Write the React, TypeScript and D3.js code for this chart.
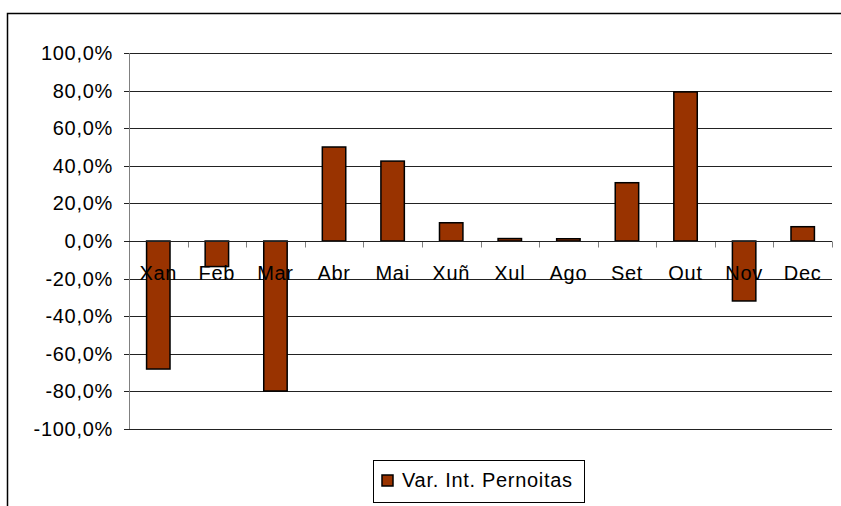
import React, { useEffect, useRef } from 'react';
import * as d3 from 'd3';

const months = ['Xan', 'Feb', 'Mar', 'Abr', 'Mai', 'Xuñ', 'Xul', 'Ago', 'Set', 'Out', 'Nov', 'Dec'];
const pernoitas = [-68.1, -13.6, -79.8, 50.0, 42.5, 9.7, 1.3, 1.2, 31.0, 79.3, -31.9, 7.6];
const yTicks = [-100, -80, -60, -40, -20, 0, 20, 40, 60, 80, 100];
const seriesName = 'Var. Int. Pernoitas';

const W = 841;
const H = 506;

export default function App() {
  const ref = useRef<SVGSVGElement>(null);

  useEffect(() => {
    const svg = d3.select(ref.current);
    svg.selectAll('*').remove();

    const left = 129;
    const right = 832;
    const top = 53;
    const bottom = 429;
    const font = 'Liberation Sans, Arial, sans-serif';
    const fs = '20px';
    const ls = '0.7px';

    // chart frame (bottom and right are off the picture)
    svg.append('path')
      .attr('d', `M7.5,${H + 2}V13.5H${W + 2}`)
      .attr('fill', 'none')
      .attr('stroke', '#000')
      .attr('stroke-width', 1.5);

    const y = d3.scaleLinear().domain([-100, 100]).range([bottom, top]);
    const x = d3.scaleBand().domain(months).range([left, right]).paddingInner(0.6).paddingOuter(0.3);
    const xb = d3.scaleBand().domain(months).range([left, right]);

    // grid lines
    svg.append('g')
      .selectAll('line')
      .data(yTicks)
      .enter()
      .append('line')
      .attr('x1', left - 5)
      .attr('x2', right)
      .attr('y1', (d) => Math.round(y(d)) + 0.5)
      .attr('y2', (d) => Math.round(y(d)) + 0.5)
      .attr('stroke', '#222')
      .attr('stroke-width', 1);

    // y axis line
    svg.append('line')
      .attr('x1', left + 0.5)
      .attr('x2', left + 0.5)
      .attr('y1', top)
      .attr('y2', bottom)
      .attr('stroke', '#808080');

    svg.append('g')
      .selectAll('text')
      .data(yTicks)
      .enter()
      .append('text')
      .attr('x', left - 16)
      .attr('y', (d) => y(d) + 7)
      .attr('text-anchor', 'end')
      .style('font-family', font)
      .style('font-size', fs)
      .style('letter-spacing', ls)
      .attr('fill', '#000')
      .text((d) => d.toFixed(1).replace('.', ',') + '%');

    // category ticks under zero line
    const zero = Math.round(y(0)) + 0.5;
    svg.append('g')
      .selectAll('line')
      .data(months.concat(['end']))
      .enter()
      .append('line')
      .attr('x1', (d, i) => Math.round(left + xb.bandwidth() * i) + 0.5)
      .attr('x2', (d, i) => Math.round(left + xb.bandwidth() * i) + 0.5)
      .attr('y1', zero)
      .attr('y2', zero + 6)
      .attr('stroke', '#808080');

    // bars
    svg.append('g')
      .selectAll('rect')
      .data(pernoitas)
      .enter()
      .append('rect')
      .attr('x', (d, i) => x(months[i]) as number)
      .attr('width', x.bandwidth())
      .attr('y', (d) => y(Math.max(0, d)))
      .attr('height', (d) => Math.abs(y(d) - y(0)))
      .attr('fill', '#993300')
      .attr('stroke', '#000')
      .attr('stroke-width', 1.5);

    // zero line on top
    svg.append('line')
      .attr('x1', left)
      .attr('x2', right)
      .attr('y1', zero)
      .attr('y2', zero)
      .attr('stroke', '#222');

    // category labels
    svg.append('g')
      .selectAll('text')
      .data(months)
      .enter()
      .append('text')
      .attr('x', (d) => (xb(d) as number) + xb.bandwidth() / 2)
      .attr('y', zero + 38)
      .attr('text-anchor', 'middle')
      .style('font-family', font)
      .style('font-size', fs)
      .style('letter-spacing', ls)
      .attr('fill', '#000')
      .text((d) => d);

    // legend
    const lg = svg.append('g');
    lg.append('rect')
      .attr('x', 373.5)
      .attr('y', 460.5)
      .attr('width', 211)
      .attr('height', 42)
      .attr('fill', '#fff')
      .attr('stroke', '#000');
    lg.append('rect')
      .attr('x', 382)
      .attr('y', 475)
      .attr('width', 11)
      .attr('height', 11)
      .attr('fill', '#993300')
      .attr('stroke', '#000')
      .attr('stroke-width', 1.5);
    lg.append('text')
      .attr('x', 402)
      .attr('y', 487)
      .style('font-family', font)
      .style('font-size', fs)
      .style('letter-spacing', ls)
      .attr('fill', '#000')
      .text(seriesName);
  }, []);

  return (
    <svg
      ref={ref}
      width={W}
      height={H}
      style={{ position: 'absolute', left: 0, top: 0, background: '#fff' }}
    />
  );
}
